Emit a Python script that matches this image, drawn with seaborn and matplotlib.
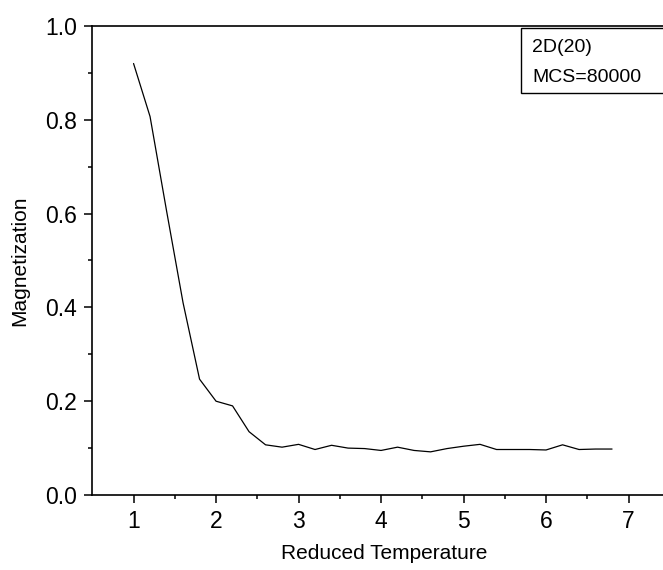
import numpy as np
import pandas as pd
import matplotlib.pyplot as plt
import matplotlib.patches as patches
import seaborn as sns

# data
temperature = [1.0, 1.2, 1.4, 1.6, 1.8, 2.0, 2.2, 2.4, 2.6, 2.8,
               3.0, 3.2, 3.4, 3.6, 3.8, 4.0, 4.2, 4.4, 4.6, 4.8,
               5.0, 5.2, 5.4, 5.6, 5.8, 6.0, 6.2, 6.4, 6.6, 6.8]
magnetization = [0.920, 0.807, 0.606, 0.410, 0.247, 0.200, 0.190, 0.135, 0.107, 0.102,
                 0.108, 0.097, 0.106, 0.100, 0.099, 0.095, 0.102, 0.095, 0.092, 0.099,
                 0.104, 0.108, 0.097, 0.097, 0.097, 0.096, 0.107, 0.097, 0.098, 0.098]
legend_lines = ['2D(20)', 'MCS=80000']
x_ticks = [1, 2, 3, 4, 5, 6, 7]
y_ticks = [0.0, 0.2, 0.4, 0.6, 0.8, 1.0]

df = pd.DataFrame({'T': temperature, 'M': magnetization})

sns.set_style('ticks')
plt.rcParams['font.family'] = ['Liberation Sans', 'DejaVu Sans']
plt.rcParams['text.color'] = 'black'
plt.rcParams['axes.labelcolor'] = 'black'
plt.rcParams['xtick.color'] = 'black'
plt.rcParams['ytick.color'] = 'black'

fig = plt.figure(figsize=(6.63, 5.70), dpi=100)
ax = fig.add_axes([92.3 / 663, 75 / 570, 577.5 / 663, 469 / 570])

sns.lineplot(data=df, x='T', y='M', color='black', linewidth=0.9, ax=ax)

ax.set_xlim(0.5, 7.5)
ax.set_ylim(0.0, 1.0)
ax.set_xticks(x_ticks)
ax.set_xticks(np.arange(1.5, 7.5, 1.0), minor=True)
ax.set_yticks(y_ticks)
ax.set_yticklabels([f'{v:.1f}' for v in y_ticks])
ax.set_yticks(np.arange(0.1, 1.0, 0.2), minor=True)
ax.tick_params(which='major', direction='out', length=6, width=1.1, labelsize=16.5, pad=5,
               color='black', labelcolor='black')
ax.tick_params(which='minor', direction='out', length=3, width=1.1, color='black')

for s in ax.spines.values():
    s.set_visible(True)
    s.set_linewidth(1.2)
    s.set_color('black')

ax.set_xlabel('Reduced Temperature', fontsize=15)
ax.set_ylabel('Magnetization', fontsize=15)
ax.xaxis.set_label_coords(0.505, -0.124)
ax.yaxis.set_label_coords(-0.125, 0.5)
ax.xaxis.label.set_va('center')
ax.yaxis.label.set_va('center')

# legend box, runs off the right edge like the reference
box = patches.Rectangle((521 / 663, 1 - 93 / 570), 0.3, 65 / 570,
                        transform=fig.transFigure, facecolor='white',
                        edgecolor='black', linewidth=1.0, zorder=5)
fig.patches.append(box)
fig.text(532 / 663, 1 - 48 / 570, legend_lines[0], fontsize=14, va='center', ha='left', zorder=6)
fig.text(532 / 663, 1 - 77 / 570, legend_lines[1], fontsize=14, va='center', ha='left', zorder=6)

fig.savefig('out.png', dpi=100)
